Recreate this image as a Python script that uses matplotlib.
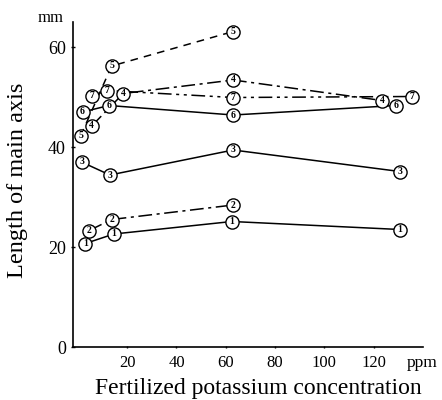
import matplotlib.pyplot as plt

plt.rcParams['font.family'] = ['Liberation Serif', 'DejaVu Serif']

# potassium concentration (ppm) / length of main axis (mm), one list pair per plot
x1 = [3, 14.6, 62.5, 130.6]
y1 = [20.7, 22.6, 25.1, 23.5]
x2 = [4.6, 13.7, 63]
y2 = [23.3, 25.5, 28.4]
x3 = [1.5, 13, 63, 130.6]
y3 = [37.0, 34.4, 39.4, 35.1]
x4 = [5.6, 18.4, 63, 123.4]
y4 = [44.2, 50.7, 53.4, 49.3]
x5 = [1.1, 13.7, 63]
y5 = [42.2, 56.2, 63.1]
x6 = [1.9, 12.6, 63, 129]
y6 = [47.0, 48.3, 46.4, 48.3]
x7 = [5.6, 11.7, 63, 135.6]
y7 = [50.2, 51.3, 49.9, 50.1]
labels = ['1', '2', '3', '4', '5', '6', '7']

series = [
    (x1, y1, '-'),
    (x2, y2, (0, (9, 3, 2, 3))),
    (x3, y3, '-'),
    (x4, y4, (0, (9, 3, 2, 3))),
    (x5, y5, (0, (5, 4))),
    (x6, y6, '-'),
    (x7, y7, (0, (9, 3, 2, 3, 2, 3))),
]

fig = plt.figure(figsize=(4.42, 4.0), dpi=100)
ax = fig.add_axes([0.165, 0.1325, 0.792, 0.8125])

for (xs, ys, ls), lab in zip(series, labels):
    ax.plot(xs, ys, color='black', lw=1.1, ls=ls, zorder=2)
    ax.plot(xs, ys, ls='none', marker='o', ms=9.5, mfc='white', mec='black',
            mew=1.0, zorder=3)
    for xv, yv in zip(xs, ys):
        ax.text(xv, yv, lab, fontsize=7, ha='center', va='center',
                fontweight='bold', zorder=4)

ax.set_xlim(-2, 140)
ax.set_ylim(0, 65)
ax.set_xticks([20, 40, 60, 80, 100, 120])
ax.set_yticks([0, 20, 40, 60])
ax.tick_params(axis='both', labelsize=13, length=3, width=1, direction='inout')
ax.tick_params(axis='x', labelsize=12, length=2, pad=5)
for s in ['top', 'right']:
    ax.spines[s].set_visible(False)
for s in ['left', 'bottom']:
    ax.spines[s].set_linewidth(1.2)

fig.text(0.585, 0.028, 'Fertilized potassium concentration', fontsize=17,
         ha='center', va='center')
fig.text(0.04, 0.55, 'Length of main axis', fontsize=17.5, rotation=90,
         ha='center', va='center')
fig.text(0.115, 0.955, 'mm', fontsize=12, ha='center', va='center')
fig.text(0.955, 0.092, 'ppm', fontsize=12.5, ha='center', va='center')

fig.savefig('out.png', dpi=100)
